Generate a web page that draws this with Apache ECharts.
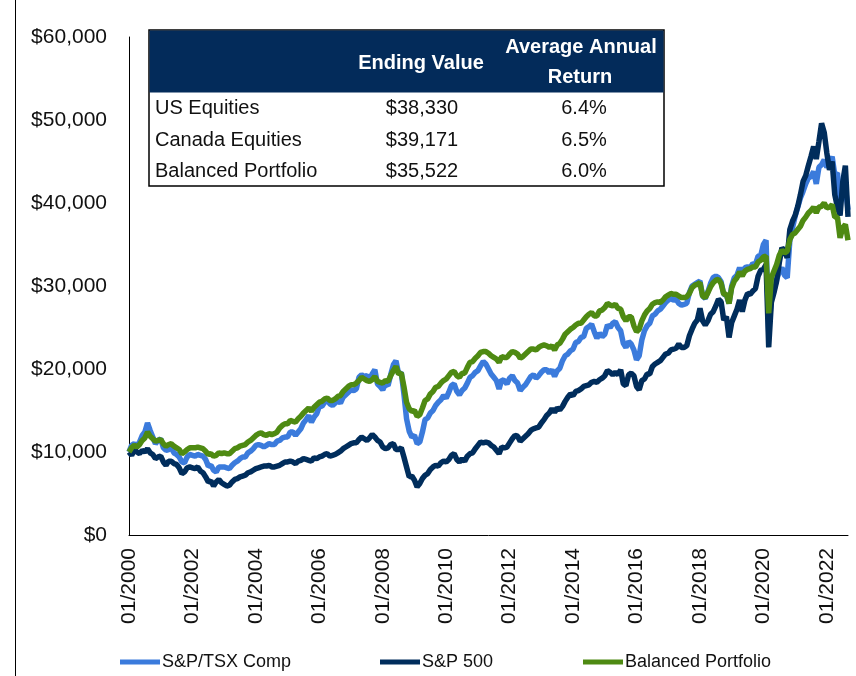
<!DOCTYPE html>
<html><head><meta charset="utf-8">
<script src="https://cdn.jsdelivr.net/npm/echarts@6/dist/echarts.min.js"></script>
<style>html,body{margin:0;padding:0;background:#fff}#c{width:856px;height:676px}</style>
</head><body><div id="c"></div>
<script>
const seriesNames = ['S&P/TSX Comp', 'S&P 500', 'Balanced Portfolio'];
const seriesColors = ['#3b7bdc', '#002d5c', '#4e8a12'];
const tickLabels = ['01/2000','01/2002','01/2004','01/2006','01/2008','01/2010','01/2012','01/2014','01/2016','01/2018','01/2020','01/2022'];

const tsxValues = [
  10000,10800,11000,10700,11200,12000,12400,13500,12600,11800,11000,11400,
  11600,10500,10200,10300,10500,9900,9700,9400,8800,8700,9400,9700,
  9600,9500,9700,9600,9500,9100,8300,8400,7800,7600,8200,8200,
  8200,8100,8000,8400,8700,8900,9200,9400,9400,9900,10100,10400,
  10800,10900,10800,10600,10800,11000,10900,10900,11300,11400,11700,11800,
  11800,12400,12400,12000,12400,12800,13500,13900,14400,13600,14200,14600,
  15500,15500,16000,16200,15800,15600,15900,16200,15900,16600,16900,17200,
  17500,17400,17600,19000,19300,19100,19200,18800,19400,19900,18200,17900,
  17500,18200,18000,19300,20500,21000,19400,19600,17000,14000,12500,11800,
  12000,11000,11200,12400,13900,14100,14700,15000,15600,16000,16300,16800,
  16500,17200,18000,18200,17300,16900,17400,17700,18300,19000,19200,19600,
  19800,20400,20900,20600,20000,19400,19000,18600,17600,18700,18600,18200,
  18900,19200,18600,18300,17400,17800,18100,18600,19100,19300,18900,19200,
  19600,19900,19900,19500,19900,19100,19800,20100,21000,21600,21800,22200,
  22400,23200,23300,23800,23900,24900,25100,25400,24500,23700,24300,23900,
  24200,25300,25000,25500,25700,25000,24600,23100,22600,23300,23000,22300,
  21100,21600,23500,24600,25200,25500,26400,26600,27000,27200,27600,28000,
  28300,28500,28300,28400,27900,27700,27800,27900,29200,30000,30200,30400,
  30600,28800,28500,29300,30300,31000,31200,31000,30500,29000,28900,27900,
  30000,31000,31300,32200,31400,32200,32300,32200,32700,32600,33600,33700,
  35000,35500,24500,28500,29500,30800,31700,32200,31300,31000,35500,37000,
  38400,39500,40600,41400,42300,43000,43200,43800,42300,44300,44600,45200,
  44300,44800,45600,43400,43600,40200,40800,41900,39171
];

const sp500Values = [
  10000,9600,10300,10000,9800,10200,10000,10400,9900,9700,9200,9400,
  9500,8800,8400,8900,8900,8600,8500,8100,7400,7600,8100,8200,
  8100,8000,8200,7700,7500,7000,6400,6500,5900,6400,6700,6300,
  6100,5900,6000,6400,6700,6800,7000,7100,7200,7500,7600,7800,
  8000,8100,8200,8300,8300,8400,8200,8200,8300,8400,8600,8800,
  8800,8900,8800,8600,8900,9000,9200,9100,9000,8900,9300,9200,
  9400,9500,9700,9800,9500,9600,9700,9900,10100,10400,10600,10800,
  11000,11100,11100,11500,11800,11600,11400,11700,12100,11800,11400,11200,
  10600,10400,10500,10900,11000,10300,10300,10500,9400,8200,7000,7100,
  6600,5800,6200,6800,7200,7400,7900,8200,8400,8300,8700,8900,
  8800,9100,9600,9800,9100,8800,9200,8900,9500,9800,9900,10400,
  10800,11200,11100,11200,11100,10800,10600,10200,9800,10600,10500,10600,
  11100,11600,12000,11900,11300,11600,11900,12200,12600,12800,12900,13000,
  13500,13900,14400,14700,15200,14800,15300,15100,15500,16100,16600,17000,
  16800,17300,17400,17600,17900,18000,18100,18400,18500,18400,18700,18900,
  19200,19800,19600,19300,19600,19300,19900,18200,18000,19300,19500,19200,
  17900,17500,18600,18800,19400,19400,20300,20600,20800,21000,21400,21800,
  21900,22300,22400,22500,23000,22600,22600,22800,24000,24800,25500,25900,
  27300,25800,25300,25800,26600,26900,27600,28400,28100,25900,26300,23800,
  25600,26400,27200,28300,26900,28300,29100,29000,29400,29700,31200,31900,
  32000,32600,22600,28000,29200,30600,32800,34600,34200,33400,36800,37800,
  38500,39600,41000,42600,43300,44500,45600,46800,45300,47400,49600,48500,
  46000,44000,45000,41000,39500,38500,42500,44500,38330
];

const balancedValues = [
  10000,10500,10800,10600,10900,11400,11700,12400,11900,11600,11300,11400,
  11500,11000,10700,10900,11000,10700,10500,10300,9800,10000,10300,10500,
  10500,10500,10600,10500,10400,10100,9700,9800,9500,9600,9900,9800,
  9900,9800,9800,10100,10400,10500,10700,10800,10900,11200,11400,11700,
  12000,12200,12300,12100,12000,12200,12100,12200,12400,12900,13200,13400,
  13400,13800,13700,13600,14000,14300,14700,15000,15300,14900,15400,15700,
  16000,16100,16400,16500,16200,16200,16400,16700,16800,17300,17600,17900,
  18100,18100,18300,18600,19000,18800,18600,18500,18700,19100,18500,18400,
  18300,18600,18500,19200,19800,20300,19400,19500,17900,16000,15200,14900,
  15000,14300,14500,15300,16200,16400,17000,17300,17800,17900,18300,18600,
  18800,19200,19600,19700,19200,19000,19500,19500,20200,20800,20900,21300,
  21600,22000,22100,22100,21900,21600,21400,21200,20800,21500,21400,21400,
  21800,22100,22000,21800,21300,21500,21800,22100,22400,22400,22300,22600,
  22800,22900,22800,22600,22800,22300,22900,23100,23600,24200,24500,24800,
  25000,25300,25500,25500,25900,26300,26600,26800,26400,26400,27000,27100,
  27400,27900,27700,27600,27800,27300,27200,26300,25800,26300,26300,25200,
  24500,24800,25800,26500,27000,27300,27800,28000,28100,28000,28300,28700,
  28900,29100,29000,29000,28800,28600,28600,28700,29100,29800,30100,30200,
  30400,28800,28600,29200,29900,30400,30700,30800,30300,29000,29000,27900,
  29800,30600,31000,31700,31200,31800,32000,32100,32300,32300,32900,33100,
  33500,33600,26700,31000,31800,32600,33700,34300,34000,34200,35600,36200,
  36400,36800,37200,37900,38300,38800,39100,39500,38800,39500,39600,40000,
  39400,39500,39800,38300,38300,35800,37000,37400,35522
];

const tableHeaderCol1 = 'Ending Value';
const tableHeaderCol2 = ['Average Annual', 'Return'];
const tableRows = ['US Equities', 'Canada Equities', 'Balanced Portfolio'];
const endingValues = ['$38,330', '$39,171', '$35,522'];
const avgReturns = ['6.4%', '6.5%', '6.0%'];

const months = [];
for (let y = 2000; y <= 2022; y++) {
  for (let m = 1; m <= 12; m++) {
    if (months.length >= tsxValues.length) break;
    months.push(String(m).padStart(2, '0') + '/' + y);
  }
}

const FF = '"Liberation Sans", Arial, sans-serif';
const chart = echarts.init(document.getElementById('c'), null, {renderer: 'canvas'});

function txt(text, x, y, font, fill, align) {
  return {type: 'text', z: 100, style: {text: text, x: x, y: y, font: font, fill: fill,
    align: align, textAlign: align, verticalAlign: 'middle', textVerticalAlign: 'middle'}};
}

const tableEls = [
  {type: 'rect', z: 90, shape: {x: 149, y: 30, width: 515, height: 156}, style: {fill: '#fff', stroke: '#000', lineWidth: 1.5}},
  {type: 'rect', z: 91, shape: {x: 149.5, y: 30.5, width: 514, height: 62}, style: {fill: '#032b5a'}},
  txt(tableHeaderCol1, 421, 63, 'bold 20px ' + FF, '#fff', 'center'),
  txt(tableHeaderCol2[0], 581, 47, 'bold 20px ' + FF, '#fff', 'center'),
  txt(tableHeaderCol2[1], 580, 77, 'bold 20px ' + FF, '#fff', 'center')
];
const rowY = [108, 140, 171];
tableRows.forEach((r, i) => {
  tableEls.push(txt(r, 155, rowY[i], '20px ' + FF, '#111', 'left'));
  tableEls.push(txt(endingValues[i], 422, rowY[i], '20px ' + FF, '#111', 'center'));
  tableEls.push(txt(avgReturns[i], 584, rowY[i], '20px ' + FF, '#111', 'center'));
});
tableEls.push({type: 'line', z: 100, shape: {x1: 15.5, y1: 0, x2: 15.5, y2: 676}, style: {stroke: '#000', lineWidth: 1}});

const valueLists = [tsxValues, sp500Values, balancedValues];
const legendLeft = [115, 375, 578];

chart.setOption({
  animation: false,
  backgroundColor: '#fff',
  grid: {left: 129, right: 8, top: 37, bottom: 141, containLabel: false},
  legend: seriesNames.map((n, i) => ({
    data: [n], left: legendLeft[i], top: 648, icon: 'rect', itemWidth: 40, itemHeight: 5,
    itemGap: 0, textStyle: {fontSize: 18, color: '#111', fontFamily: FF, padding: [0, 0, 0, -3]}
  })),
  xAxis: {
    type: 'category', data: months, boundaryGap: false,
    axisLine: {show: true, lineStyle: {color: '#000', width: 1}},
    axisTick: {show: false},
    splitLine: {show: false},
    axisLabel: {
      rotate: 90, margin: 13, fontSize: 21, color: '#111', fontFamily: FF,
      interval: (idx, val) => tickLabels.indexOf(val) >= 0
    }
  },
  yAxis: {
    type: 'value', min: 0, max: 60000, interval: 10000,
    axisLine: {show: true, lineStyle: {color: '#000', width: 1}},
    axisTick: {show: false},
    splitLine: {show: false},
    axisLabel: {margin: 22, fontSize: 21, color: '#111', fontFamily: FF,
      formatter: v => '$' + v.toLocaleString('en-US')}
  },
  series: seriesNames.map((n, i) => ({
    name: n, type: 'line', data: valueLists[i], symbol: 'none', showSymbol: false,
    lineStyle: {color: seriesColors[i], width: 5.5}, itemStyle: {color: seriesColors[i]},
    z: 2 + i
  })),
  graphic: {elements: tableEls}
});
</script></body></html>
